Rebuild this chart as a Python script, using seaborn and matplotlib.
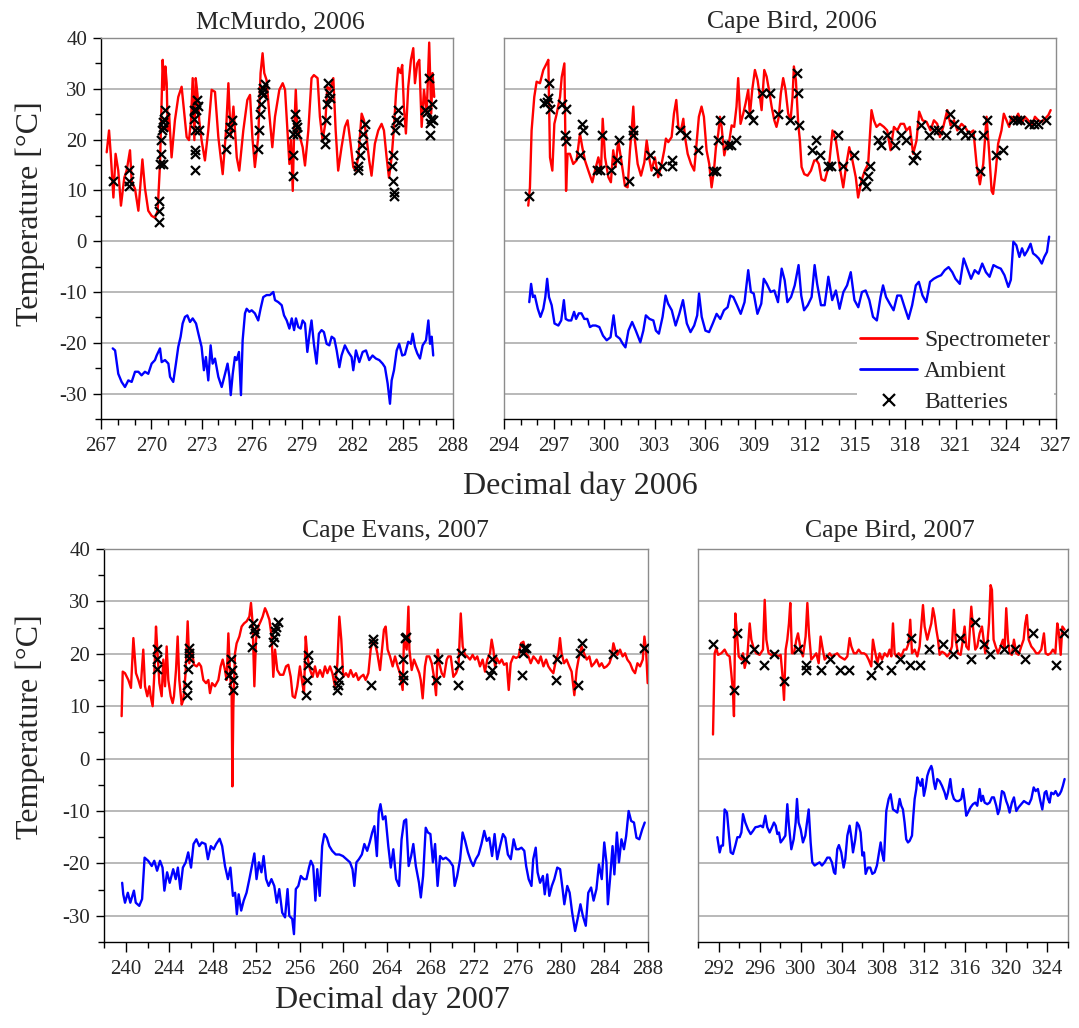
import matplotlib
matplotlib.use("Agg")
import matplotlib.pyplot as plt
from matplotlib.ticker import MultipleLocator
from matplotlib.lines import Line2D
import pandas as pd
import seaborn as sns

# ---------------- McMurdo, 2006 ----------------
mcm06_spec_day = [267.34, 267.48, 267.58, 267.74, 267.87, 268.03, 268.19, 268.39, 268.53, 268.73,
                  268.83, 269.03, 269.23, 269.47, 269.62, 269.82, 270.02, 270.22, 270.38, 270.52,
                  270.68, 270.76, 270.84, 270.92, 270.98, 271.06, 271.21, 271.41, 271.61, 271.81,
                  271.95, 272.11, 272.25, 272.37, 272.47, 272.57, 272.65, 272.75, 272.86, 273.0,
                  273.2, 273.4, 273.6, 273.8, 274.0, 274.26, 274.46, 274.6, 274.74, 274.9,
                  275.1, 275.25, 275.49, 275.73, 275.89, 276.03, 276.18, 276.38, 276.52, 276.64,
                  276.74, 276.88, 277.04, 277.22, 277.38, 277.64, 277.84, 277.98, 278.12, 278.24,
                  278.34, 278.44, 278.52, 278.62, 278.72, 278.87, 279.03, 279.17, 279.37, 279.56,
                  279.7, 279.92, 280.06, 280.22, 280.38, 280.5, 280.66, 280.86, 281.0, 281.15,
                  281.35, 281.55, 281.71, 281.89, 282.05, 282.19, 282.35, 282.55, 282.69, 282.84,
                  283.0, 283.14, 283.34, 283.54, 283.74, 283.88, 284.04, 284.18, 284.34, 284.48,
                  284.6, 284.73, 284.87, 284.97, 285.07, 285.19, 285.33, 285.49, 285.63, 285.73,
                  285.87, 285.99, 286.13, 286.27, 286.43, 286.58, 286.7, 286.78, 286.88]
mcm06_spec_temp = [17.5, 21.8, 17.2, 8.6, 17.2, 13.9, 7.0, 12.5, 13.9, 17.9,
                   11.8, 10.3, 6.0, 16.1, 10.5, 6.0, 5.0, 4.6, 6.0, 15.2,
                   35.7, 29.8, 34.4, 31.1, 21.8, 25.1, 16.5, 23.8, 28.4, 30.4,
                   25.8, 20.5, 19.9, 23.8, 32.1, 19.9, 32.1, 29.1, 23.8, 19.9,
                   15.9, 21.8, 29.8, 29.4, 20.5, 13.2, 21.8, 31.1, 20.5, 26.5,
                   16.5, 13.9, 21.8, 27.8, 28.8, 20.5, 14.6, 20.5, 33.1, 37.0,
                   33.1, 31.7, 25.1, 18.5, 24.5, 29.8, 31.1, 29.8, 21.8, 15.2,
                   19.9, 9.9, 21.2, 29.8, 21.8, 20.5, 18.5, 14.9, 21.8, 32.1,
                   32.7, 32.1, 24.5, 19.9, 23.1, 30.4, 29.8, 32.1, 21.8, 13.9,
                   18.5, 22.5, 23.8, 19.2, 14.6, 13.9, 16.5, 25.1, 23.8, 20.5,
                   15.9, 12.9, 19.2, 21.8, 23.1, 21.8, 16.5, 12.5, 16.5, 22.5,
                   29.1, 34.1, 33.1, 34.7, 26.5, 21.2, 30.4, 35.7, 38.0, 31.1,
                   35.0, 35.7, 22.5, 29.8, 25.1, 39.1, 25.1, 33.1, 28.4]
mcm06_amb_day = [267.7, 267.84, 268.03, 268.23, 268.43, 268.63, 268.83, 269.03, 269.23, 269.42,
                 269.62, 269.82, 270.02, 270.22, 270.32, 270.52, 270.62, 270.82, 271.02, 271.12,
                 271.31, 271.47, 271.61, 271.75, 271.87, 272.01, 272.15, 272.31, 272.47, 272.67,
                 272.81, 273.0, 273.14, 273.26, 273.4, 273.54, 273.66, 273.8, 274.0, 274.2,
                 274.4, 274.55, 274.66, 274.74, 274.86, 274.99, 275.09, 275.23, 275.35, 275.45,
                 275.59, 275.69, 275.85, 275.99, 276.18, 276.38, 276.52, 276.68, 276.88, 277.08,
                 277.28, 277.38, 277.58, 277.78, 277.92, 278.08, 278.24, 278.38, 278.52, 278.63,
                 278.77, 278.91, 279.03, 279.17, 279.31, 279.47, 279.56, 279.7, 279.86, 280.0,
                 280.16, 280.3, 280.46, 280.62, 280.76, 280.92, 281.06, 281.22, 281.35, 281.55,
                 281.75, 281.95, 282.05, 282.21, 282.41, 282.61, 282.81, 283.0, 283.2, 283.4,
                 283.6, 283.8, 283.94, 284.1, 284.24, 284.34, 284.48, 284.64, 284.79, 284.97,
                 285.13, 285.33, 285.49, 285.59, 285.73, 285.87, 286.03, 286.19, 286.39, 286.53,
                 286.63, 286.73, 286.82]
mcm06_amb_temp = [-21.1, -21.5, -26.1, -27.7, -28.7, -27.4, -27.7, -25.7, -25.7, -26.4,
                  -25.7, -26.1, -24.1, -23.4, -22.5, -21.1, -23.8, -23.4, -24.1, -26.7,
                  -27.7, -24.1, -20.8, -18.8, -16.2, -14.9, -14.6, -15.9, -15.2, -16.2,
                  -18.2, -20.8, -25.4, -22.8, -27.4, -20.5, -24.1, -23.1, -26.7, -28.7,
                  -26.1, -24.1, -26.7, -30.3, -26.1, -22.8, -23.4, -21.8, -30.3, -19.5,
                  -14.2, -13.3, -13.9, -13.6, -14.2, -15.6, -13.3, -11.0, -10.6, -10.6,
                  -10.0, -11.6, -12.0, -12.6, -14.6, -15.6, -17.2, -15.2, -17.5, -15.2,
                  -16.9, -17.2, -15.6, -16.2, -21.8, -17.5, -15.6, -20.2, -24.1, -18.2,
                  -17.5, -17.9, -20.2, -20.5, -18.8, -19.2, -21.5, -24.8, -22.5, -20.5,
                  -21.8, -22.8, -25.4, -21.5, -23.8, -21.8, -21.5, -23.4, -22.5, -23.1,
                  -23.4, -24.1, -24.8, -28.0, -32.0, -27.4, -25.4, -21.5, -20.2, -22.5,
                  -22.3, -19.8, -20.2, -18.2, -20.8, -22.1, -23.1, -20.5, -19.5, -15.6,
                  -20.2, -18.8, -22.5]
mcm06_bat_day = [267.74, 268.69, 268.69, 268.69, 270.46, 270.46, 270.46, 270.52, 270.58, 270.58,
                 270.62, 270.68, 270.72, 270.76, 270.82, 270.68,
                 272.58, 272.58, 272.58, 272.54, 272.54, 272.68, 272.74, 272.78, 272.82, 272.62,
                 274.46, 274.66, 274.7, 274.8,
                 276.38, 276.44, 276.48, 276.52, 276.58, 276.68, 276.78, 276.64,
                 278.43, 278.43, 278.47, 278.57, 278.63, 278.67, 278.71,
                 280.36, 280.36, 280.42, 280.5, 280.62, 280.56, 280.66,
                 282.35, 282.35, 282.45, 282.55, 282.65, 282.75,
                 284.34, 284.44, 284.4, 284.48, 284.48, 284.54, 284.6, 284.74, 284.8,
                 286.32, 286.42, 286.58, 286.62, 286.72, 286.66, 286.62, 286.82]
mcm06_bat_temp = [11.9, 14.0, 11.9, 10.9, 7.9, 6.0, 3.8, 15.2, 17.2, 19.9,
                  21.8, 23.5, 22.5, 24.1, 25.9, 15.2,
                  14.0, 17.9, 21.9, 24.1, 25.9, 25.8, 27.8, 26.6, 21.9, 17.2,
                  18.2, 21.2, 22.5, 23.9,
                  18.2, 21.9, 25.1, 27.1, 29.4, 30.1, 30.9, 28.8,
                  12.9, 16.9, 21.2, 25.1, 23.1, 21.2, 22.5,
                  19.2, 20.5, 23.9, 27.1, 29.1, 31.1, 28.1,
                  14.0, 14.9, 16.9, 18.9, 21.2, 23.1,
                  14.9, 16.9, 11.9, 9.6, 8.9, 21.9, 23.9, 25.8, 23.5,
                  25.9, 25.5, 32.1, 23.3, 27.1, 24.1, 21.0, 23.9]

# ---------------- Cape Bird, 2006 ----------------
cb06_spec_day = [295.45, 295.55, 295.65, 295.81, 295.95, 296.15, 296.35, 296.55, 296.65, 296.75,
                 296.89, 297.01, 297.15, 297.35, 297.45, 297.61, 297.71, 297.8, 297.94, 298.14,
                 298.34, 298.54, 298.68, 298.84, 299.04, 299.28, 299.44, 299.64, 299.8, 299.9,
                 300.04, 300.24, 300.39, 300.53, 300.67, 300.83, 301.03, 301.23, 301.39, 301.53,
                 301.63, 301.73, 301.83, 301.99, 302.19, 302.39, 302.53, 302.67, 302.82, 303.02,
                 303.22, 303.42, 303.58, 303.68, 303.82, 304.02, 304.16, 304.3, 304.42, 304.58,
                 304.72, 304.82, 304.98, 305.18, 305.37, 305.51, 305.65, 305.81, 305.95, 306.11,
                 306.27, 306.41, 306.55, 306.67, 306.81, 306.91, 307.01, 307.17, 307.31, 307.47,
                 307.61, 307.76, 307.9, 308.0, 308.14, 308.3, 308.44, 308.6, 308.7, 308.84,
                 309.0, 309.16, 309.3, 309.4, 309.56, 309.7, 309.84, 310.0, 310.16, 310.29,
                 310.43, 310.55, 310.69, 310.83, 310.99, 311.13, 311.25, 311.33, 311.45, 311.59,
                 311.69, 311.79, 311.95, 312.15, 312.35, 312.55, 312.69, 312.82, 312.98, 313.18,
                 313.44, 313.64, 313.84, 314.04, 314.28, 314.47, 314.64, 314.83, 315.03, 315.17,
                 315.37, 315.57, 315.77, 315.97, 316.11, 316.27, 316.47, 316.71, 316.91, 317.11,
                 317.31, 317.51, 317.71, 317.91, 318.06, 318.26, 318.46, 318.66, 318.82, 319.02,
                 319.26, 319.5, 319.7, 319.9, 320.06, 320.26, 320.5, 320.7, 320.9, 321.1,
                 321.35, 321.55, 321.81, 322.06, 322.25, 322.45, 322.65, 322.85, 323.01, 323.15,
                 323.24, 323.4, 323.54, 323.74, 323.88, 324.04, 324.2, 324.34, 324.54, 324.74,
                 324.94, 325.14, 325.34, 325.54, 325.74, 325.94, 326.14, 326.34, 326.54, 326.68]
cb06_spec_temp = [7.0, 10.6, 21.8, 28.4, 31.4, 31.1, 33.7, 35.0, 35.7, 16.5,
                  13.9, 23.1, 25.1, 28.4, 32.3, 35.0, 9.9, 17.2, 17.2, 15.2,
                  15.9, 21.2, 18.5, 15.9, 13.9, 11.6, 13.9, 16.5, 13.9, 24.1,
                  16.5, 12.6, 11.6, 17.9, 14.6, 19.8, 15.5, 10.9, 10.6, 17.9,
                  21.8, 26.5, 19.8, 15.2, 12.9, 15.5, 19.8, 16.5, 13.9, 16.5,
                  12.6, 15.2, 17.9, 20.2, 19.5, 20.5, 25.1, 27.8, 22.5, 21.8,
                  24.1, 20.5, 17.2, 15.2, 13.9, 19.2, 24.5, 26.5, 24.5, 17.9,
                  15.2, 10.6, 13.9, 18.5, 21.2, 24.5, 22.5, 16.9, 19.2, 19.8,
                  22.8, 22.5, 26.5, 32.1, 23.1, 25.1, 27.1, 29.8, 24.8, 29.8,
                  33.7, 31.7, 28.4, 25.8, 33.7, 32.4, 29.8, 26.5, 23.8, 22.5,
                  24.5, 29.1, 32.1, 29.8, 25.1, 23.8, 28.4, 34.4, 31.7, 23.1,
                  19.8, 14.6, 13.2, 12.9, 13.9, 15.9, 15.9, 15.2, 12.2, 11.9,
                  15.2, 21.8, 19.8, 15.2, 10.6, 15.2, 18.5, 15.9, 12.6, 8.6,
                  11.9, 13.9, 15.2, 25.8, 23.8, 22.5, 23.1, 22.5, 21.8, 17.9,
                  22.5, 21.8, 23.1, 23.1, 21.8, 22.5, 17.2, 19.8, 25.5, 23.8,
                  23.5, 21.8, 23.8, 23.1, 20.5, 22.5, 25.8, 22.8, 23.8, 21.8,
                  23.1, 22.5, 21.2, 21.8, 15.2, 11.2, 15.2, 24.5, 17.2, 9.9,
                  9.3, 13.9, 19.2, 21.8, 25.1, 23.8, 22.5, 24.5, 23.8, 25.1,
                  23.1, 24.5, 23.8, 22.5, 24.5, 23.8, 23.5, 24.1, 24.8, 25.8]
cb06_amb_day = [295.51, 295.62, 295.73, 295.84, 296.02, 296.18, 296.35, 296.47, 296.58, 296.69,
                296.85, 297.02, 297.25, 297.42, 297.58, 297.69, 297.85, 298.02, 298.19, 298.31,
                298.47, 298.63, 298.8, 298.98, 299.14, 299.3, 299.48, 299.7, 299.92, 300.14,
                300.37, 300.55, 300.7, 300.93, 301.1, 301.26, 301.44, 301.66, 301.88, 302.15,
                302.33, 302.48, 302.7, 302.93, 303.08, 303.26, 303.48, 303.66, 303.81, 304.03,
                304.26, 304.48, 304.7, 304.93, 305.15, 305.37, 305.55, 305.66, 305.82, 306.04,
                306.26, 306.48, 306.71, 306.93, 307.15, 307.37, 307.53, 307.71, 307.93, 308.15,
                308.38, 308.6, 308.76, 308.93, 309.15, 309.38, 309.53, 309.71, 309.94, 310.16,
                310.38, 310.6, 310.78, 310.94, 311.16, 311.38, 311.61, 311.77, 311.94, 312.16,
                312.39, 312.57, 312.72, 312.95, 313.17, 313.39, 313.62, 313.84, 314.06, 314.29,
                314.51, 314.73, 314.95, 315.18, 315.4, 315.62, 315.84, 316.06, 316.29, 316.51,
                316.66, 316.84, 317.06, 317.29, 317.51, 317.73, 317.95, 318.18, 318.4, 318.62,
                318.8, 319.02, 319.24, 319.47, 319.69, 319.91, 320.13, 320.35, 320.58, 320.8,
                320.99, 321.25, 321.48, 321.7, 321.92, 322.14, 322.37, 322.59, 322.81, 323.03,
                323.26, 323.48, 323.7, 323.92, 324.15, 324.3, 324.45, 324.63, 324.81, 324.97,
                325.12, 325.3, 325.48, 325.63, 325.79, 325.97, 326.15, 326.3, 326.46, 326.59]
cb06_amb_temp = [-12.0, -8.4, -11.0, -10.7, -13.3, -14.9, -13.3, -11.0, -7.4, -11.0,
                 -12.6, -16.2, -16.6, -15.6, -11.6, -15.3, -15.6, -15.6, -13.9, -15.3,
                 -14.2, -14.2, -15.3, -15.3, -16.9, -16.6, -16.6, -16.9, -18.6, -19.5,
                 -18.9, -14.6, -18.6, -19.2, -20.2, -20.9, -17.6, -15.9, -17.6, -19.9,
                 -17.6, -14.6, -15.3, -15.6, -17.6, -18.2, -14.9, -10.7, -12.3, -13.6,
                 -16.6, -14.3, -11.6, -16.2, -17.9, -16.6, -14.6, -10.3, -14.9, -17.6,
                 -17.9, -16.2, -14.3, -15.3, -13.6, -13.0, -10.7, -11.0, -12.6, -14.3,
                 -12.0, -5.7, -10.0, -10.3, -14.3, -12.3, -7.4, -8.4, -10.0, -9.7,
                 -12.0, -5.4, -7.7, -12.0, -11.0, -8.7, -4.7, -10.7, -13.6, -12.6,
                 -11.0, -4.7, -8.4, -12.6, -12.6, -7.0, -11.6, -9.7, -13.3, -10.0,
                 -8.7, -6.1, -11.6, -13.0, -10.0, -9.7, -11.6, -14.9, -15.6, -11.0,
                 -8.7, -11.0, -12.3, -13.6, -10.7, -10.7, -13.0, -15.3, -12.6, -8.7,
                 -8.0, -10.7, -12.0, -8.0, -7.4, -7.0, -6.7, -5.7, -5.1, -6.1,
                 -7.4, -8.4, -3.4, -5.4, -7.4, -5.7, -6.4, -4.4, -6.1, -7.0,
                 -4.7, -5.1, -5.4, -6.7, -9.0, -7.6, -0.1, -0.8, -3.1, -1.4,
                 -2.8, -1.8, -0.5, -2.4, -2.8, -3.4, -4.4, -3.1, -2.1, 0.9]
cb06_bat_day = [295.49, 296.41, 296.55, 296.65, 296.71, 296.75, 297.45, 297.69, 297.65, 297.69,
                298.54, 298.68, 298.74, 299.54, 299.74, 299.88, 300.39, 300.73, 300.89, 301.49,
                301.69, 301.73, 302.73, 303.16, 303.42, 304.02, 304.02, 304.52, 304.88, 305.57,
                306.51, 306.65, 306.77, 306.91, 307.41, 307.55, 307.84, 308.64, 308.9, 309.4,
                309.9, 310.4, 311.09, 311.49, 311.55, 311.65,
                312.39, 312.65, 312.92, 313.38, 313.52, 313.98, 314.28, 314.92, 315.47, 315.67,
                315.77, 315.91, 316.37, 316.51, 316.87, 317.37, 317.71, 318.02, 318.46, 318.62,
                318.9, 319.42, 319.7, 319.96, 320.4, 320.65, 320.9, 321.35, 321.55, 321.89,
                322.45, 322.61, 322.89, 323.44, 323.84, 324.43, 324.67, 324.87, 325.38, 325.66,
                325.93, 326.39]
cb06_bat_temp = [8.9, 27.2, 27.4, 28.1, 31.1, 26.1, 27.0, 26.0, 21.0, 19.8,
                 16.9, 23.1, 21.9, 14.0, 14.0, 21.0, 14.0, 16.0, 20.0, 11.9,
                 21.9, 21.0, 16.9, 13.9, 14.9, 16.0, 14.9, 21.9, 21.0, 18.0,
                 13.9, 13.9, 20.0, 23.9, 19.0, 19.0, 20.0, 25.1, 23.9, 29.1,
                 29.1, 25.1, 23.9, 33.1, 29.1, 22.9,
                 18.0, 20.0, 16.9, 14.9, 14.9, 21.0, 14.9, 16.9, 11.9, 10.9,
                 12.9, 14.9, 20.0, 19.0, 21.0, 19.0, 21.0, 20.0, 16.0, 16.9,
                 22.9, 21.0, 21.9, 21.9, 21.0, 25.1, 23.1, 21.9, 21.0, 21.0,
                 13.9, 21.0, 23.9, 16.9, 18.0, 23.9, 23.9, 23.9, 23.0, 23.0,
                 23.0, 23.9]

# ---------------- Cape Evans, 2007 ----------------
ce07_spec_day = [239.62, 239.72, 239.93, 240.24, 240.48, 240.7, 240.94, 241.16, 241.37, 241.61,
                 241.77, 241.98, 242.17, 242.29, 242.47, 242.63, 242.78, 242.9, 243.09, 243.3,
                 243.45, 243.61, 243.76, 243.91, 244.13, 244.31, 244.43, 244.62, 244.77, 244.92,
                 245.14, 245.29, 245.5, 245.69, 245.84, 246.06, 246.27, 246.52, 246.73, 246.92,
                 247.13, 247.38, 247.59, 247.74, 247.93, 248.2, 248.51, 248.72, 248.91, 249.12,
                 249.27, 249.43, 249.58, 249.73, 249.8, 249.89, 250.04, 250.19, 250.44, 250.65,
                 250.87, 251.11, 251.36, 251.51, 251.66, 251.82, 251.97, 252.18, 252.4, 252.58,
                 252.8, 252.95, 253.2, 253.41, 253.56, 253.72, 253.93, 254.18, 254.48, 254.73,
                 254.94, 255.16, 255.34, 255.55, 255.77, 256.01, 256.23, 256.38, 256.54, 256.69,
                 256.94, 257.18, 257.39, 257.61, 257.85, 258.1, 258.31, 258.53, 258.77, 258.99,
                 259.23, 259.45, 259.63, 259.81, 259.99, 260.24, 260.46, 260.67, 260.92, 261.16,
                 261.38, 261.59, 261.84, 262.05, 262.3, 262.51, 262.7, 262.91, 263.12, 263.37,
                 263.58, 263.73, 263.89, 264.07, 264.29, 264.53, 264.75, 264.99, 265.2, 265.45,
                 265.57, 265.82, 265.98, 266.07, 266.28, 266.49, 266.74, 266.98, 267.11, 267.29,
                 267.5, 267.66, 267.9, 268.12, 268.33, 268.52, 268.67, 268.82, 269.04, 269.25,
                 269.5, 269.65, 269.87, 270.11, 270.36, 270.58, 270.79, 270.97, 271.18, 271.39,
                 271.64, 271.88, 272.1, 272.31, 272.56, 272.8, 273.02, 273.23, 273.48, 273.63,
                 273.79, 273.94, 274.09, 274.34, 274.55, 274.77, 275.01, 275.2, 275.38, 275.62,
                 275.87, 276.11, 276.33, 276.55, 276.76, 277.01, 277.22, 277.47, 277.71, 277.93,
                 278.14, 278.39, 278.63, 278.84, 279.06, 279.3, 279.55, 279.76, 279.91, 280.06,
                 280.28, 280.52, 280.77, 280.98, 281.23, 281.44, 281.66, 281.9, 282.12, 282.37,
                 282.61, 282.82, 283.07, 283.28, 283.53, 283.74, 283.96, 284.2, 284.45, 284.66,
                 284.82, 284.97, 285.18, 285.43, 285.67, 285.89, 286.1, 286.35, 286.6, 286.81,
                 287.03, 287.27, 287.52, 287.67, 287.82, 287.97]
ce07_spec_temp = [8.1, 16.6, 16.3, 15.0, 13.5, 23.0, 16.3, 15.0, 13.5, 20.8,
                  13.8, 11.9, 13.8, 11.9, 10.0, 16.3, 25.2, 20.8, 14.4, 11.9,
                  18.9, 13.8, 21.4, 15.0, 11.9, 10.6, 11.9, 17.0, 23.3, 15.0,
                  10.3, 11.2, 16.3, 26.2, 18.2, 20.8, 17.9, 17.6, 18.2, 17.6,
                  15.0, 14.4, 15.0, 12.5, 14.4, 13.8, 15.0, 17.6, 18.9, 16.9,
                  15.0, 23.9, 16.3, 12.5, -5.3, 10.0, 20.1, 22.0, 23.3, 25.2,
                  25.8, 26.2, 27.1, 29.7, 25.8, 13.8, 22.7, 25.2, 26.2, 27.1,
                  28.7, 28.0, 26.5, 23.3, 15.6, 20.8, 16.9, 16.0, 16.0, 17.6,
                  17.9, 15.6, 11.9, 11.6, 13.8, 17.6, 14.4, 12.5, 23.3, 19.5,
                  16.9, 15.6, 17.6, 15.6, 16.9, 15.6, 17.6, 16.3, 17.6, 16.3,
                  13.8, 18.2, 27.1, 22.7, 15.6, 16.3, 15.6, 16.9, 15.6, 16.3,
                  15.0, 15.6, 16.0, 15.0, 16.3, 20.8, 22.7, 22.0, 20.1, 16.9,
                  21.4, 24.6, 25.2, 20.8, 19.5, 17.6, 19.5, 17.6, 16.3, 13.1,
                  22.7, 20.8, 29.0, 20.8, 16.9, 18.9, 17.6, 16.3, 15.0, 11.5,
                  17.6, 19.5, 19.5, 18.2, 15.6, 12.1, 20.8, 18.2, 16.3, 15.6,
                  18.9, 19.5, 19.5, 15.6, 16.3, 17.6, 27.7, 21.4, 19.8, 19.5,
                  18.9, 19.8, 18.9, 19.5, 17.6, 18.9, 16.6, 18.9, 20.1, 22.7,
                  20.8, 17.6, 19.2, 18.2, 18.9, 17.9, 18.2, 13.1, 18.2, 19.5,
                  19.2, 19.5, 22.0, 22.3, 20.1, 19.5, 18.2, 19.5, 18.9, 18.2,
                  19.5, 17.6, 18.9, 17.6, 16.9, 16.3, 18.9, 20.1, 23.0, 20.1,
                  18.2, 18.9, 17.6, 16.6, 12.1, 16.9, 19.5, 21.4, 20.1, 18.9,
                  19.5, 17.6, 18.2, 18.9, 17.6, 18.2, 17.3, 17.6, 18.2, 19.5,
                  22.0, 20.8, 19.8, 20.8, 19.5, 20.1, 18.9, 18.2, 16.9, 16.3,
                  18.2, 17.6, 18.9, 23.3, 20.8, 14.4]
ce07_amb_day = [239.67, 239.77, 239.93, 240.19, 240.42, 240.75, 240.92, 241.24, 241.5, 241.73,
                242.06, 242.39, 242.62, 242.88, 243.15, 243.38, 243.55, 243.8, 244.04, 244.36,
                244.59, 244.79, 245.02, 245.25, 245.51, 245.74, 246.0, 246.23, 246.49, 246.76,
                246.99, 247.32, 247.55, 247.82, 248.08, 248.31, 248.63, 248.86, 249.12, 249.39,
                249.62, 249.85, 250.05, 250.21, 250.38, 250.61, 250.84, 251.1, 251.36, 251.59,
                251.82, 252.02, 252.24, 252.47, 252.67, 252.9, 253.13, 253.39, 253.65, 253.88,
                254.11, 254.38, 254.64, 254.87, 255.03, 255.3, 255.46, 255.63, 255.86, 256.09,
                256.35, 256.61, 256.84, 257.01, 257.23, 257.43, 257.6, 257.83, 258.05, 258.25,
                258.48, 258.71, 258.97, 259.3, 259.63, 259.96, 260.29, 260.61, 260.84, 261.01,
                261.2, 261.43, 261.7, 261.93, 262.19, 262.42, 262.65, 262.85, 263.08, 263.25,
                263.41, 263.64, 263.87, 264.13, 264.36, 264.59, 264.85, 265.12, 265.35, 265.58,
                265.77, 266.0, 266.23, 266.43, 266.66, 266.95, 267.12, 267.33, 267.57, 267.77,
                268.0, 268.23, 268.43, 268.66, 268.89, 269.15, 269.42, 269.75, 270.07, 270.23,
                270.46, 270.73, 270.96, 271.19, 271.45, 271.71, 271.94, 272.17, 272.43, 272.69,
                272.95, 273.18, 273.41, 273.67, 273.9, 274.14, 274.4, 274.67, 274.89, 275.12,
                275.39, 275.65, 275.88, 276.11, 276.37, 276.63, 276.8, 277.03, 277.29, 277.45,
                277.68, 277.85, 278.08, 278.34, 278.51, 278.74, 278.93, 279.16, 279.39, 279.66,
                279.92, 280.15, 280.31, 280.58, 280.8, 281.03, 281.3, 281.53, 281.79, 282.01,
                282.28, 282.51, 282.77, 283.0, 283.26, 283.49, 283.75, 283.98, 284.18, 284.31,
                284.51, 284.74, 284.91, 285.14, 285.33, 285.56, 285.79, 285.99, 286.22, 286.45,
                286.71, 286.94, 287.2, 287.47, 287.7]
ce07_amb_temp = [-23.7, -25.9, -27.5, -25.6, -27.5, -25.2, -27.5, -28.1, -26.8, -18.9,
                 -19.5, -20.5, -19.5, -21.4, -19.5, -20.8, -25.2, -21.7, -23.7, -21.1,
                 -23.0, -20.8, -24.9, -20.8, -19.8, -17.9, -20.8, -16.3, -15.4, -16.7,
                 -16.0, -16.3, -19.2, -16.7, -17.3, -16.3, -15.3, -16.7, -20.5, -23.0,
                 -20.8, -26.2, -25.6, -29.7, -25.9, -29.0, -27.1, -25.6, -23.0, -20.5,
                 -18.1, -23.0, -19.8, -21.7, -18.6, -23.0, -24.3, -23.0, -24.3, -27.5,
                 -24.9, -29.4, -30.3, -24.9, -30.0, -30.6, -33.5, -24.9, -24.3, -22.4,
                 -23.0, -23.0, -20.8, -19.5, -20.5, -27.1, -21.1, -26.2, -16.7, -14.4,
                 -15.1, -16.7, -17.6, -18.3, -18.3, -18.6, -19.2, -19.8, -21.1, -24.3,
                 -19.8, -19.2, -18.3, -16.3, -17.6, -16.0, -14.1, -12.9, -18.6, -10.3,
                 -8.7, -11.6, -11.0, -16.7, -20.8, -17.3, -23.0, -24.3, -15.4, -11.9,
                 -11.6, -20.5, -18.6, -16.3, -20.5, -23.7, -26.5, -22.4, -13.2, -14.1,
                 -14.4, -19.8, -16.3, -24.3, -18.6, -19.2, -18.9, -19.5, -20.5, -24.3,
                 -22.4, -19.2, -14.1, -15.7, -17.9, -19.5, -20.5, -19.2, -18.3, -16.3,
                 -13.8, -15.7, -15.1, -18.6, -14.4, -19.2, -16.7, -14.4, -15.1, -18.3,
                 -19.2, -15.4, -17.3, -17.3, -17.0, -17.6, -20.5, -23.0, -24.3, -19.2,
                 -17.0, -21.7, -23.7, -22.4, -25.9, -22.1, -26.2, -24.3, -23.0, -20.8,
                 -21.1, -24.9, -27.8, -24.3, -25.6, -29.4, -32.9, -30.6, -27.8, -30.0,
                 -31.9, -25.6, -24.6, -27.1, -24.9, -20.2, -23.0, -16.0, -19.8, -27.8,
                 -23.0, -16.7, -22.1, -14.1, -19.8, -15.4, -17.3, -14.8, -10.0, -11.9,
                 -12.2, -15.1, -15.4, -13.5, -12.2]
ce07_bat_day = [242.9, 242.9, 242.84, 245.66, 245.66, 245.75, 245.84, 245.84, 245.84,
                249.64, 249.52, 249.73, 249.83, 249.83, 251.57, 251.73, 251.79, 251.88,
                253.5, 253.62, 253.72, 253.81, 253.96, 256.54, 256.63, 256.72, 256.78,
                259.45, 259.54, 259.63, 259.54, 262.51, 262.7, 262.75,
                265.45, 265.51, 265.51, 265.66, 265.76, 268.52, 268.73, 270.5, 270.66, 270.79,
                273.48, 273.63, 273.69, 276.42, 276.54, 276.63, 276.79, 279.52, 279.67,
                281.6, 281.75, 281.9, 284.82, 287.67]
ce07_bat_temp = [21.0, 19.0, 17.1, 12.1, 14.0, 17.1, 19.2, 20.1, 21.1,
                 19.0, 16.0, 17.0, 15.0, 13.0, 21.3, 25.8, 24.7, 23.9,
                 22.2, 23.3, 24.3, 25.1, 26.0, 12.1, 15.0, 17.9, 19.8,
                 13.1, 14.1, 15.0, 17.0, 14.0, 22.8, 22.0,
                 15.0, 16.0, 19.0, 23.0, 23.2, 15.0, 19.0, 14.0, 17.9, 20.1,
                 16.0, 17.0, 19.0, 16.0, 20.1, 21.1, 21.1, 15.0, 19.0,
                 14.0, 20.1, 22.0, 19.9, 21.1]

# ---------------- Cape Bird, 2007 ----------------
cb07_spec_day = [291.46, 291.62, 291.78, 291.95, 292.27, 292.59, 292.85, 293.08, 293.24, 293.4,
                 293.5, 293.63, 293.79, 293.96, 294.22, 294.38, 294.54, 294.8, 295.03, 295.19,
                 295.45, 295.67, 296.0, 296.32, 296.49, 296.65, 296.87, 297.13, 297.46, 297.78,
                 298.04, 298.2, 298.37, 298.53, 298.69, 298.85, 298.98, 299.14, 299.34, 299.57,
                 299.73, 299.99, 300.21, 300.47, 300.64, 300.8, 301.02, 301.28, 301.51, 301.74,
                 301.93, 302.09, 302.32, 302.58, 302.81, 303.03, 303.29, 303.55, 303.78, 304.01,
                 304.27, 304.53, 304.75, 304.92, 305.17, 305.4, 305.63, 305.89, 306.15, 306.37,
                 306.6, 306.86, 307.02, 307.19, 307.45, 307.67, 307.9, 308.16, 308.42, 308.64,
                 308.81, 308.97, 309.13, 309.29, 309.52, 309.78, 310.04, 310.27, 310.49, 310.65,
                 310.82, 311.08, 311.34, 311.56, 311.72, 311.89, 312.05, 312.31, 312.54, 312.7,
                 312.86, 313.02, 313.19, 313.35, 313.51, 313.74, 313.99, 314.25, 314.48, 314.71,
                 314.9, 315.07, 315.29, 315.55, 315.78, 315.94, 316.1, 316.33, 316.59, 316.75,
                 316.98, 317.17, 317.4, 317.63, 317.79, 317.95, 318.15, 318.31, 318.47, 318.6,
                 318.76, 318.96, 319.18, 319.44, 319.67, 319.83, 319.99, 320.16, 320.32, 320.54,
                 320.74, 320.97, 321.19, 321.45, 321.68, 321.84, 322.0, 322.17, 322.43, 322.68,
                 322.91, 323.14, 323.4, 323.66, 323.82, 324.05, 324.31, 324.53, 324.77, 324.96,
                 325.12, 325.29, 325.45, 325.67]
cb07_spec_temp = [4.6, 20.1, 21.1, 19.8, 20.1, 20.8, 19.8, 19.5, 16.3, 12.8,
                  8.1, 27.7, 23.9, 19.5, 18.9, 20.1, 17.3, 19.5, 25.8, 22.7,
                  20.8, 20.1, 19.8, 20.8, 30.3, 22.7, 20.1, 19.8, 20.1, 19.5,
                  19.8, 16.3, 11.2, 20.8, 22.7, 25.8, 29.7, 20.1, 20.1, 22.7,
                  23.9, 20.8, 19.5, 23.3, 29.7, 23.9, 18.9, 19.5, 20.1, 18.2,
                  23.3, 21.4, 18.9, 19.5, 20.1, 19.5, 19.8, 20.1, 19.5, 19.2,
                  18.9, 19.5, 23.0, 21.4, 20.1, 20.1, 20.8, 20.1, 20.1, 19.8,
                  18.9, 17.6, 22.7, 20.8, 18.2, 20.1, 18.9, 20.1, 19.5, 20.8,
                  19.5, 25.8, 20.1, 19.5, 20.1, 19.5, 20.8, 20.8, 22.0, 26.5,
                  20.1, 20.8, 19.5, 21.4, 25.2, 29.3, 25.2, 22.7, 24.6, 25.8,
                  28.7, 27.1, 24.6, 22.7, 19.8, 20.4, 20.1, 19.5, 20.1, 21.4,
                  28.4, 22.7, 20.1, 19.8, 22.7, 25.2, 21.4, 20.8, 29.0, 25.2,
                  20.8, 21.4, 23.9, 25.2, 22.7, 20.1, 22.0, 25.8, 33.1, 32.2,
                  22.7, 21.4, 20.1, 21.4, 22.7, 20.8, 28.7, 22.7, 20.1, 19.8,
                  22.7, 20.1, 19.8, 21.4, 22.7, 25.8, 27.4, 22.7, 21.4, 20.8,
                  20.1, 20.1, 20.8, 23.9, 20.1, 19.8, 20.1, 20.8, 20.1, 25.8,
                  23.9, 19.8, 25.2, 24.6]
cb07_amb_day = [291.88, 292.11, 292.27, 292.43, 292.59, 292.82, 293.02, 293.18, 293.4, 293.63,
                293.83, 294.05, 294.22, 294.38, 294.6, 294.86, 295.12, 295.35, 295.58, 295.84,
                296.1, 296.32, 296.55, 296.74, 296.97, 297.2, 297.39, 297.56, 297.72, 297.88,
                298.04, 298.27, 298.5, 298.69, 298.85, 299.08, 299.31, 299.5, 299.63, 299.79,
                299.99, 300.21, 300.44, 300.6, 300.77, 300.96, 301.12, 301.35, 301.58, 301.83,
                302.06, 302.32, 302.58, 302.81, 303.03, 303.23, 303.36, 303.55, 303.71, 303.94,
                304.17, 304.33, 304.53, 304.75, 304.92, 305.08, 305.3, 305.47, 305.66, 305.82,
                305.99, 306.15, 306.31, 306.54, 306.76, 306.96, 307.19, 307.41, 307.61, 307.77,
                307.93, 308.09, 308.32, 308.55, 308.74, 308.97, 309.2, 309.39, 309.62, 309.78,
                309.94, 310.1, 310.26, 310.43, 310.59, 310.82, 310.95, 311.08, 311.24, 311.34,
                311.47, 311.66, 311.82, 311.98, 312.15, 312.31, 312.47, 312.7, 312.79, 312.96,
                313.09, 313.28, 313.51, 313.74, 314.0, 314.16, 314.32, 314.55, 314.71, 314.9,
                315.13, 315.36, 315.62, 315.78, 315.94, 316.1, 316.27, 316.52, 316.75, 316.98,
                317.17, 317.4, 317.56, 317.72, 317.89, 318.15, 318.37, 318.6, 318.79, 319.02,
                319.18, 319.34, 319.57, 319.77, 319.99, 320.16, 320.32, 320.54, 320.74, 320.97,
                321.19, 321.45, 321.71, 321.94, 322.2, 322.43, 322.66, 322.85, 323.07, 323.31,
                323.5, 323.73, 323.89, 324.05, 324.21, 324.37, 324.6, 324.79, 325.02, 325.18,
                325.34, 325.5, 325.67]
cb07_amb_temp = [-15.0, -17.9, -16.6, -16.6, -9.7, -10.3, -14.7, -17.9, -18.2, -16.6,
                 -15.0, -15.0, -14.1, -10.6, -12.2, -13.5, -14.4, -13.8, -13.1, -13.0,
                 -12.8, -13.1, -10.9, -13.1, -14.1, -13.1, -12.2, -12.8, -14.4, -14.1,
                 -16.0, -15.4, -14.7, -8.7, -12.8, -17.3, -15.4, -12.2, -7.7, -12.2,
                 -13.5, -16.0, -14.7, -12.2, -9.7, -16.0, -19.8, -20.4, -20.1, -19.8,
                 -20.4, -19.8, -18.9, -18.9, -19.8, -21.7, -22.0, -17.3, -16.5, -17.9,
                 -20.8, -19.2, -14.7, -12.8, -15.0, -17.9, -15.4, -12.2, -12.8, -14.1,
                 -18.5, -17.9, -22.0, -20.8, -20.8, -22.0, -21.7, -20.4, -17.9, -16.0,
                 -18.2, -19.5, -10.0, -7.7, -6.8, -9.7, -10.0, -10.3, -7.7, -9.0,
                 -9.7, -12.2, -15.4, -16.0, -15.7, -14.7, -10.9, -7.7, -5.8, -3.6,
                 -4.3, -5.2, -3.9, -7.1, -5.5, -3.3, -2.3, -1.4, -2.0, -4.6,
                 -5.8, -3.9, -4.3, -5.2, -6.5, -7.7, -6.5, -3.9, -6.5, -7.7,
                 -8.1, -8.1, -7.7, -5.8, -8.1, -10.9, -10.3, -9.3, -8.7, -8.4,
                 -9.0, -5.8, -8.1, -7.1, -8.4, -8.7, -8.4, -7.4, -7.4, -9.0,
                 -10.6, -9.7, -6.2, -6.5, -8.1, -9.0, -10.3, -8.4, -7.4, -10.0,
                 -9.3, -8.7, -8.1, -8.4, -8.7, -7.7, -5.5, -6.2, -5.8, -8.1,
                 -9.7, -6.5, -6.2, -7.7, -8.4, -6.5, -6.8, -6.2, -7.1, -6.8,
                 -6.2, -5.2, -3.9]
cb07_bat_day = [291.46, 293.47, 293.83, 294.6, 295.45, 296.42, 297.39, 298.37, 299.73, 300.54,
                300.54, 301.93, 302.81, 303.78, 304.69, 306.86, 307.51, 308.81, 309.68, 310.59,
                310.69, 311.6, 312.44, 313.83, 314.8, 315.45, 316.52, 316.91, 317.82, 318.37,
                319.77, 320.8, 321.84, 322.59, 324.79, 325.6]
cb07_bat_temp = [21.9, 13.0, 23.9, 19.0, 20.9, 17.9, 19.9, 14.9, 20.9, 17.9,
                 17.0, 17.0, 19.0, 17.0, 17.0, 16.0, 17.9, 17.0, 19.0, 17.9,
                 23.0, 17.9, 20.9, 21.9, 19.9, 23.0, 19.0, 26.0, 21.9, 19.9,
                 20.9, 20.9, 19.0, 23.9, 17.9, 23.9]

# ---------------- figure ----------------
sns.set_theme(style="white")
plt.rcParams["font.family"] = ["Liberation Serif", "DejaVu Serif"]
plt.rcParams["axes.unicode_minus"] = False

W, H = 1079, 1028
fig = plt.figure(figsize=(W / 100, H / 100), dpi=100)
fig.patch.set_facecolor("white")

RED = "#ff0000"
BLUE = "#0000ff"
GRID = "#a6a6a6"
FRAME = "#8c8c8c"


def add_axes_px(left, top, right, bottom):
    return fig.add_axes([left / W, 1 - bottom / H, (right - left) / W, (bottom - top) / H])


def draw_panel(ax, xlim, major, spec, amb, bat, show_y):
    sd, st = spec
    ad, at = amb
    bd, bt = bat
    sns.lineplot(data=pd.DataFrame({"day": ad, "temp": at}), x="day", y="temp", ax=ax,
                 color=BLUE, linewidth=1.7, sort=False, estimator=None, zorder=3)
    sns.lineplot(data=pd.DataFrame({"day": sd, "temp": st}), x="day", y="temp", ax=ax,
                 color=RED, linewidth=1.7, sort=False, estimator=None, zorder=3)
    sns.scatterplot(data=pd.DataFrame({"day": bd, "temp": bt}), x="day", y="temp", ax=ax,
                    marker="x", color="black", s=42, linewidth=1.6, zorder=4)

    ax.set_xlim(*xlim)
    ax.set_ylim(-35, 40)
    ax.set_xlabel("")
    ax.set_ylabel("")
    ax.xaxis.set_major_locator(MultipleLocator(major))
    ax.xaxis.set_minor_locator(MultipleLocator(major / (3 if major == 3 else 2)))
    ax.yaxis.set_major_locator(MultipleLocator(10))
    ax.yaxis.set_minor_locator(MultipleLocator(5))
    ax.set_yticks([-30, -20, -10, 0, 10, 20, 30, 40])
    ax.yaxis.grid(True, color=GRID, linewidth=1.1)
    ax.xaxis.grid(False)
    ax.set_axisbelow(True)

    ax.tick_params(axis="x", which="major", direction="out", length=7, width=1,
                   color="black", labelsize=15, pad=6, bottom=True)
    ax.tick_params(axis="x", which="minor", direction="out", length=4, width=1,
                   color="black", bottom=True)
    for side in ("top", "right"):
        ax.spines[side].set_color(FRAME)
        ax.spines[side].set_linewidth(1.0)
    ax.spines["bottom"].set_color("black")
    ax.spines["bottom"].set_linewidth(1.0)
    if show_y:
        ax.spines["left"].set_color("black")
        ax.tick_params(axis="y", which="major", direction="out", length=6, width=1,
                       color="black", labelsize=15, pad=4, left=True)
        ax.tick_params(axis="y", which="minor", direction="out", length=4, width=1,
                       color="black", left=True)
    else:
        ax.spines["left"].set_color(FRAME)
        ax.tick_params(axis="y", which="both", left=False, labelleft=False)
    ax.spines["left"].set_linewidth(1.0)
    for lab in ax.get_xticklabels() + ax.get_yticklabels():
        lab.set_fontfamily(["Liberation Serif"])
    leg = ax.get_legend()
    if leg is not None:
        leg.remove()


ax1 = add_axes_px(101, 38, 453, 419)
draw_panel(ax1, (267, 288), 3, (mcm06_spec_day, mcm06_spec_temp),
           (mcm06_amb_day, mcm06_amb_temp), (mcm06_bat_day, mcm06_bat_temp), True)

ax2 = add_axes_px(504, 38, 1056, 419)
draw_panel(ax2, (294, 327), 3, (cb06_spec_day, cb06_spec_temp),
           (cb06_amb_day, cb06_amb_temp), (cb06_bat_day, cb06_bat_temp), False)

ax3 = add_axes_px(104, 549, 648, 942)
draw_panel(ax3, (238, 288), 4, (ce07_spec_day, ce07_spec_temp),
           (ce07_amb_day, ce07_amb_temp), (ce07_bat_day, ce07_bat_temp), True)

ax4 = add_axes_px(698, 549, 1068, 942)
draw_panel(ax4, (290, 326), 4, (cb07_spec_day, cb07_spec_temp),
           (cb07_amb_day, cb07_amb_temp), (cb07_bat_day, cb07_bat_temp), False)

# legend in the Cape Bird 2006 panel
handles = [Line2D([], [], color=RED, linewidth=2),
           Line2D([], [], color=BLUE, linewidth=2),
           Line2D([], [], color="black", marker="x", linestyle="none",
                  markersize=8, markeredgewidth=1.6)]
leg = ax2.legend(handles, ["Spectrometer", "Ambient", "Batteries"],
                 loc="lower right", bbox_to_anchor=(1.0, 0.0), fontsize=17,
                 frameon=True, fancybox=False, framealpha=1.0, facecolor="white",
                 edgecolor="none", handlelength=2.4, handletextpad=0.3,
                 labelspacing=0.4, borderpad=0.15, borderaxespad=0.1)
leg.set_zorder(5)

# panel titles
title_kw = dict(ha="center", va="center", fontsize=18.5)
fig.text(280 / W, 1 - 22 / H, "McMurdo, 2006", **title_kw)
fig.text(792 / W, 1 - 22 / H, "Cape Bird, 2006", **title_kw)
fig.text(395 / W, 1 - 531 / H, "Cape Evans, 2007", **title_kw)
fig.text(890 / W, 1 - 531 / H, "Cape Bird, 2007", **title_kw)

# axis labels
lab_kw = dict(ha="center", va="center", fontsize=23)
fig.text(580 / W, 1 - 486 / H, "Decimal day 2006", **lab_kw)
fig.text(392 / W, 1 - 1000 / H, "Decimal day 2007", **lab_kw)
fig.text(30 / W, 1 - 214 / H, "Temperature [°C]", rotation=90, **lab_kw)
fig.text(30 / W, 1 - 727 / H, "Temperature [°C]", rotation=90, **lab_kw)

fig.savefig("out.png", dpi=100, facecolor="white")
